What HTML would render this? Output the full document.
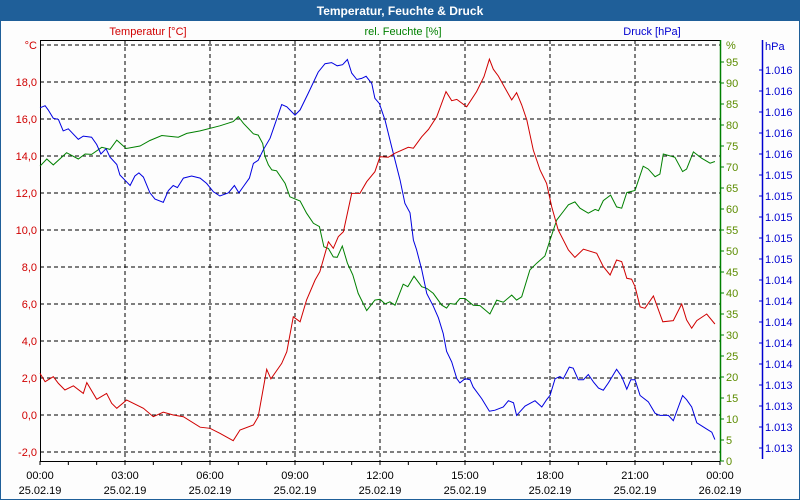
<!DOCTYPE html>
<html><head><meta charset="utf-8">
<style>
html,body{margin:0;padding:0;background:#fff;}
#wrap{position:relative;width:800px;height:500px;overflow:hidden;font-family:"Liberation Sans",sans-serif;}
svg text{font-family:"Liberation Sans",sans-serif;font-size:11px;}
</style></head><body>
<div id="wrap">
<svg id="chart" width="800" height="500">
  <rect x="0" y="0" width="800" height="500" fill="#fdfdfd" stroke="#1f5f99" stroke-width="2"/>
  <rect x="0" y="0" width="800" height="21" fill="#1f5f99"/>
  <text x="400" y="15" text-anchor="middle" fill="#fff" font-weight="bold" style="font-size:12px">Temperatur, Feuchte &amp; Druck</text>
  <text x="148" y="35" text-anchor="middle" fill="#d00000">Temperatur [°C]</text>
  <text x="403" y="35" text-anchor="middle" fill="#008000">rel. Feuchte [%]</text>
  <text x="652" y="35" text-anchor="middle" fill="#0000d0">Druck [hPa]</text>
  <g id="grid"></g>
  <g id="axes"></g>
  <g id="series"></g>
</svg>
</div>
<script>
// ---- data ----
const xTickLabelsTime = ["00:00","03:00","06:00","09:00","12:00","15:00","18:00","21:00","00:00"];
const xTickLabelsDate = ["25.02.19","25.02.19","25.02.19","25.02.19","25.02.19","25.02.19","25.02.19","25.02.19","26.02.19"];
const tempTicks = [-2,0,2,4,6,8,10,12,14,16,18];
const tempTickLabels = ["-2,0","0,0","2,0","4,0","6,0","8,0","10,0","12,0","14,0","16,0","18,0"];
const humTicks = [0,5,10,15,20,25,30,35,40,45,50,55,60,65,70,75,80,85,90,95];
const presTicks = [1012.8,1013.0,1013.2,1013.4,1013.6,1013.8,1014.0,1014.2,1014.4,1014.6,1014.8,1015.0,1015.2,1015.4,1015.6,1015.8,1016.0,1016.2,1016.4];
const presTickLabels = ["1.013","1.013","1.013","1.013","1.014","1.014","1.014","1.014","1.014","1.015","1.015","1.015","1.015","1.015","1.016","1.016","1.016","1.016","1.016"];

const tempHours = [0,.18,.47,.65,.88,1.18,1.53,1.65,2.0,2.35,2.53,2.71,3.06,3.65,4.0,4.35,4.7,5.06,5.65,6.0,6.35,6.82,7.06,7.53,7.7,8.0,8.15,8.53,8.71,8.94,9.18,9.41,9.71,9.88,10.18,10.35,10.53,10.71,11.0,11.29,11.53,11.82,12.0,12.29,12.53,13.0,13.18,13.47,13.71,14.0,14.33,14.53,14.71,15.06,15.41,15.67,15.86,16.0,16.18,16.35,16.65,16.82,17.0,17.18,17.41,17.65,17.88,18.06,18.29,18.65,18.88,19.18,19.65,19.88,20.12,20.35,20.53,20.71,20.88,21.0,21.18,21.35,21.65,21.98,22.35,22.65,22.82,23.0,23.18,23.53,23.82];
const tempValues = [2.25,1.8,2.07,1.71,1.35,1.58,1.17,1.75,.85,1.17,.63,.36,.81,.36,-.09,.15,0,-.09,-.66,-.72,-.99,-1.39,-.81,-.54,-.09,2.47,1.95,2.79,3.42,5.31,5.04,6.22,7.3,7.75,9.37,9.01,9.64,9.91,11.98,11.98,12.61,13.15,13.96,13.93,14.15,14.47,14.42,15.04,15.44,16.12,17.48,16.99,17.06,16.66,17.48,18.29,19.23,18.69,18.32,17.84,17.03,17.42,16.76,15.95,14.32,13.24,12.52,11.26,10.0,8.92,8.52,8.96,8.74,8.02,7.57,8.38,8.29,7.39,7.34,6.94,5.85,5.77,6.43,5.04,5.1,6.0,5.14,4.69,5.1,5.46,4.92];

const humHours = [0,.24,.47,.94,1.35,1.59,1.82,2.18,2.47,2.71,3.04,3.53,3.88,4.3,4.88,5.18,5.65,6.35,6.82,7.0,7.18,7.53,7.7,7.86,7.94,8.06,8.18,8.35,8.65,8.82,9.18,9.41,9.65,9.86,10.02,10.18,10.35,10.49,10.67,10.85,11.04,11.23,11.53,11.82,12.0,12.18,12.35,12.53,12.82,12.98,13.2,13.47,13.65,13.88,14.18,14.35,14.47,14.65,14.82,15.0,15.29,15.53,15.88,16.12,16.35,16.65,16.82,17.0,17.29,17.53,17.82,18.0,18.24,18.47,18.65,18.88,19.06,19.35,19.59,19.71,19.88,20.14,20.35,20.53,20.71,21.0,21.29,21.47,21.71,21.88,22.0,22.41,22.68,22.82,23.06,23.35,23.65,23.82];
const humValues = [70.2,71.9,70.5,73.4,71.9,73.1,73.0,74.7,74.2,76.4,74.4,75.0,76.3,77.5,77.1,78.0,78.6,79.8,80.8,82.0,80.4,77.9,77.6,75.6,72.5,70.5,69.3,69.1,66.1,62.9,61.9,59.0,56.6,55.8,51.0,50.6,48.6,48.5,51.2,47.1,44.3,39.9,35.8,38.3,38.5,37.4,37.9,37.1,42.1,41.5,44.0,41.5,41.1,39.9,37.1,36.4,37.5,37.3,38.7,38.7,37.1,37.0,35.0,38.3,37.8,39.5,38.3,39.1,45.5,47.1,48.8,52.6,57.4,59.4,61.0,61.7,60.2,59.0,59.9,59.6,62.0,63.3,60.5,60.2,63.9,64.4,70.2,69.5,67.7,68.3,73.1,72.3,68.9,69.5,73.6,72.1,70.9,71.3];

const presHours = [0,.18,.29,.47,.65,.82,1.0,1.35,1.53,1.82,2.0,2.15,2.33,2.47,2.71,2.82,3.18,3.35,3.49,3.65,3.88,4.06,4.35,4.53,4.7,4.85,5.06,5.35,5.65,5.88,6.12,6.35,6.65,6.86,7.02,7.18,7.39,7.53,7.7,7.88,8.12,8.53,8.71,9.0,9.18,9.47,9.82,10.06,10.29,10.49,10.68,10.85,11.0,11.18,11.35,11.51,11.71,11.82,11.98,12.18,12.41,12.71,12.88,13.06,13.18,13.29,13.47,13.65,13.88,14.06,14.23,14.35,14.53,14.71,14.82,15.0,15.18,15.29,15.59,15.86,16.06,16.35,16.53,16.71,16.82,17.12,17.47,17.71,17.88,18.0,18.18,18.35,18.47,18.68,18.82,19.0,19.18,19.35,19.53,19.71,19.88,20.06,20.35,20.53,20.71,20.85,21.0,21.18,21.47,21.71,21.88,22.18,22.35,22.68,22.82,23.0,23.18,23.53,23.71,23.82];
const presValues = [1016.04,1016.06,1016.02,1015.94,1015.93,1015.82,1015.84,1015.74,1015.77,1015.76,1015.69,1015.60,1015.65,1015.57,1015.50,1015.40,1015.30,1015.39,1015.42,1015.38,1015.23,1015.17,1015.14,1015.25,1015.30,1015.28,1015.37,1015.39,1015.37,1015.32,1015.24,1015.20,1015.23,1015.30,1015.23,1015.29,1015.37,1015.51,1015.54,1015.64,1015.75,1016.07,1016.05,1015.97,1016.02,1016.18,1016.38,1016.46,1016.47,1016.44,1016.45,1016.50,1016.37,1016.31,1016.32,1016.34,1016.27,1016.13,1016.08,1015.92,1015.67,1015.35,1015.13,1015.04,1014.78,1014.69,1014.50,1014.27,1014.15,1014.04,1013.89,1013.72,1013.62,1013.46,1013.42,1013.46,1013.45,1013.38,1013.27,1013.15,1013.16,1013.19,1013.25,1013.23,1013.11,1013.20,1013.25,1013.19,1013.26,1013.30,1013.46,1013.48,1013.46,1013.57,1013.56,1013.45,1013.45,1013.50,1013.43,1013.37,1013.35,1013.42,1013.55,1013.48,1013.36,1013.45,1013.45,1013.30,1013.24,1013.13,1013.11,1013.11,1013.06,1013.30,1013.26,1013.19,1013.04,1012.98,1012.95,1012.88];

// ---- axis functions ----
const X0 = 40, X1 = 720, YT = 40, YB = 461;
const xOf = h => X0 + h * (X1 - X0) / 24;
const yTemp = t => 415 - t * 18.5;
const yHum = v => 461 - v * 4.2;
const yPres = p => 448 - (p - 1012.8) * 105;

const NS = "http://www.w3.org/2000/svg";
function mk(tag, parent, attrs) {
  const e = document.createElementNS(NS, tag);
  for (const k in attrs) e.setAttribute(k, attrs[k]);
  parent.appendChild(e);
  return e;
}
const grid = document.getElementById('grid');
const axes = document.getElementById('axes');
const series = document.getElementById('series');

// horizontal grid (temperature ticks incl. 20 at top)
[...tempTicks, 20].forEach(t => {
  const l = mk('line', grid, {x1: X0, x2: X1, y1: yTemp(t), y2: yTemp(t), stroke: '#000', 'stroke-dasharray': '4,3', 'stroke-width': 1});
  
  
});
// vertical grid every 3h
for (let i = 1; i < 8; i++) {
  const l = mk('line', grid, {x1: xOf(i*3), x2: xOf(i*3), y1: YT, y2: YB, stroke: '#000', 'stroke-dasharray': '4,3', 'stroke-width': 1});
  
  
}
// frame lines
let fl = mk('line', axes, {x1: X0, x2: X1, y1: YT + .5, y2: YT + .5, stroke: '#000'});


fl = mk('line', axes, {x1: X0 + .5, x2: X0 + .5, y1: YT, y2: YB, stroke: '#000'});


fl = mk('line', axes, {x1: X0, x2: X1, y1: YB + .5, y2: YB + .5, stroke: '#000'});


fl = mk('line', axes, {x1: X1 + .5, x2: X1 + .5, y1: YT, y2: YB, stroke: '#008000', 'stroke-width': 1.5});


fl = mk('line', axes, {x1: 762.5, x2: 762.5, y1: YT, y2: 459, stroke: '#0000d0', 'stroke-width': 1.5});



// x ticks hourly
for (let h = 0; h <= 24; h++) {
  const t = mk('line', axes, {x1: xOf(h), x2: xOf(h), y1: YB, y2: YB + 4, stroke: '#000'});
  
  
}
xTickLabelsTime.forEach((s, i) => {
  const a = mk('text', axes, {x: xOf(i*3), y: 479, 'text-anchor': 'middle', fill: '#000'});
  a.textContent = s;
  
  
  const b = mk('text', axes, {x: xOf(i*3), y: 494, 'text-anchor': 'middle', fill: '#000'});
  b.textContent = xTickLabelsDate[i];
  
  
});

// temperature axis labels
tempTicks.forEach((t, i) => {
  const a = mk('text', axes, {x: 37, y: yTemp(t) + 4, 'text-anchor': 'end', fill: '#d00000'});
  a.textContent = tempTickLabels[i];
  
  
});
let u = mk('text', axes, {x: 37, y: 49, 'text-anchor': 'end', fill: '#d00000'});
u.textContent = '°C';



// humidity axis
humTicks.forEach(v => {
  const t = mk('line', axes, {x1: X1, x2: X1 + 4, y1: yHum(v), y2: yHum(v), stroke: '#008000'});
  
  
  const a = mk('text', axes, {x: 726, y: yHum(v) + 4, fill: '#5c8c00'});
  a.textContent = String(v);
  
  
});
u = mk('text', axes, {x: 726, y: 49, fill: '#5c8c00'});
u.textContent = '%';



// pressure axis
presTicks.forEach((p, i) => {
  const t = mk('line', axes, {x1: 759, x2: 762, y1: yPres(p), y2: yPres(p), stroke: '#0000d0'});
  
  
  const a = mk('text', axes, {x: 765, y: yPres(p) + 4, fill: '#0000d0'});
  a.textContent = presTickLabels[i];
  
  
});
u = mk('text', axes, {x: 765, y: 50, fill: '#0000d0'});
u.textContent = 'hPa';



// series
function pts(hs, vs, yf) { return hs.map((h, i) => xOf(h).toFixed(1) + ',' + yf(vs[i]).toFixed(1)).join(' '); }
const pHum = mk('polyline', series, {points: pts(humHours, humValues, yHum), fill: 'none', stroke: '#008000', 'stroke-width': 1});


const pPres = mk('polyline', series, {points: pts(presHours, presValues, yPres), fill: 'none', stroke: '#0000e0', 'stroke-width': 1});


const pTemp = mk('polyline', series, {points: pts(tempHours, tempValues, yTemp), fill: 'none', stroke: '#d00000', 'stroke-width': 1});


</script>
</body></html>
